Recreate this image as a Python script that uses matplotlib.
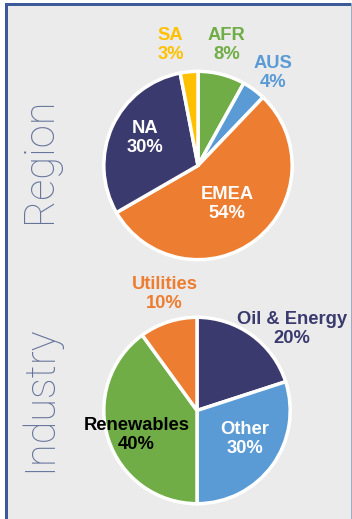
import matplotlib.pyplot as plt
from matplotlib.patches import Rectangle

# region split
region_labels = ['AFR', 'AUS', 'EMEA', 'NA', 'SA']
region_values = [8, 4, 54, 30, 3]
region_colors = ['#70AD47', '#5B9BD5', '#ED7D31', '#3A3A6E', '#FFC000']
region_text = ['#70AD47', '#5B9BD5', 'white', 'white', '#FFC000']
region_pos = [(0.30, 1.28), (0.80, 0.98), (0.31, -0.41), (-0.56, 0.29), (-0.29, 1.28)]

# industry split
industry_labels = ['Oil & Energy', 'Other', 'Renewables', 'Utilities']
industry_values = [20, 30, 40, 10]
industry_colors = ['#3A3A6E', '#5B9BD5', '#70AD47', '#ED7D31']
industry_text = ['#3A3A6E', 'white', 'black', '#ED7D31']
industry_pos = [(1.02, 0.87), (0.51, -0.31), (-0.65, -0.26), (-0.35, 1.25)]

W, H = 352, 519
fig = plt.figure(figsize=(W / 100, H / 100), dpi=100)
fig.patch.set_facecolor('white')


def box(x, y, w, h, color):
    # rectangle given in pixels from the top-left corner
    fig.patches.append(Rectangle((x / W, 1 - (y + h) / H), w / W, h / H,
                                 transform=fig.transFigure, facecolor=color,
                                 edgecolor='none', zorder=-5))


box(6, 5, W - 6, H - 5, '#EBEBEB')
box(5, 3, 2.5, H - 3, '#3C5A99')
box(5, 3, W - 5, 2.5, '#3C5A99')
box(W - 1.5, 3, 1.5, H - 3, '#A0AAC0')


def draw_pie(cx, cy, r, values, colors, labels, pos, tcolors):
    ax = fig.add_axes([(cx - r) / W, (H - cy - r) / H, 2 * r / W, 2 * r / H])
    ax.pie(values, colors=colors, startangle=90, counterclock=False,
           wedgeprops=dict(edgecolor='white', linewidth=2.5))
    for lab, v, (x, y), c in zip(labels, values, pos, tcolors):
        ax.text(x, y, f'{lab}\n{v}%', ha='center', va='center',
                color=c, fontsize=13.2, fontweight='bold', family='Liberation Sans',
                linespacing=1.15, clip_on=False)
    ax.set_xlim(-1.03, 1.03)
    ax.set_ylim(-1.03, 1.03)
    ax.set_aspect('equal')
    ax.axis('off')
    return ax


draw_pie(198, 165.5, 97, region_values, region_colors, region_labels, region_pos, region_text)
draw_pie(197, 410.5, 96, industry_values, industry_colors, industry_labels, industry_pos, industry_text)

side = dict(rotation=90, ha='center', va='center', color='#66749A', fontsize=30,
            family=['Roboto', 'Open Sans', 'DejaVu Sans'], fontweight='light')
fig.text(39 / W, 1 - 160 / H, 'Region', **side)
fig.text(39 / W, 1 - 399 / H, 'Industry', **side)

fig.savefig('out.png', dpi=100, facecolor=fig.get_facecolor())
